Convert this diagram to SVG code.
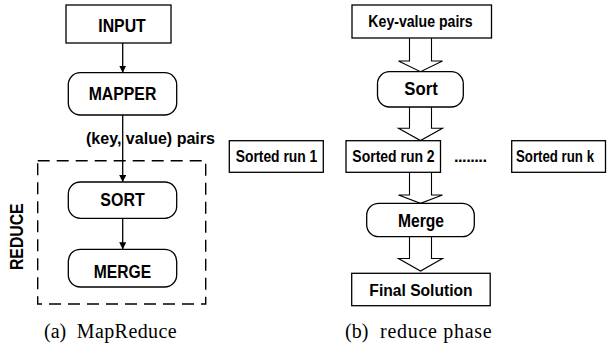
<svg xmlns="http://www.w3.org/2000/svg" width="607" height="348" viewBox="0 0 607 348">
<style>
.box{fill:#fff;stroke:#000;stroke-width:1.3}
.lbl{font-family:"Liberation Sans",Arial,sans-serif;font-weight:bold;fill:#000}
.l{font-size:18.5px}
.r{font-size:16.5px}
.cap{font-family:"Liberation Serif","Times New Roman",serif;font-size:20px;fill:#000}
.ln{stroke:#000;stroke-width:1.3;fill:none}
.blk{fill:#fff;stroke:#000;stroke-width:1.1}
.dash{fill:none;stroke:#000;stroke-width:1.4;stroke-dasharray:12 7}
</style>
<defs>
<marker id="ah" viewBox="0 0 7 7" refX="7" refY="3.5" markerWidth="7" markerHeight="7" markerUnits="userSpaceOnUse" orient="auto">
<path d="M0,0 L7,3.5 L0,7 z" fill="#000"/>
</marker>
</defs>

<g id="reduce-frame">
<rect class="dash" x="37.7" y="160.7" width="168" height="143.3"/>
<text class="lbl" x="23.3" y="236.7" font-size="19" text-anchor="middle" textLength="66.7" lengthAdjust="spacingAndGlyphs" transform="rotate(-90 23.3 236.7)">REDUCE</text>
</g>

<g id="input">
<rect class="box" x="66" y="5" width="105" height="38"/>
<text class="lbl l" x="122" y="31.5" text-anchor="middle" textLength="47.4" lengthAdjust="spacingAndGlyphs">INPUT</text>
</g>
<g id="mapper">
<rect class="box" x="68.3" y="72.7" width="108.4" height="42.3" rx="12"/>
<text class="lbl l" x="122.5" y="100" text-anchor="middle" textLength="67.7" lengthAdjust="spacingAndGlyphs">MAPPER</text>
</g>
<g id="sort">
<rect class="box" x="68.3" y="182" width="108.4" height="36.3" rx="12"/>
<text class="lbl l" x="122.5" y="206" text-anchor="middle" textLength="44.3" lengthAdjust="spacingAndGlyphs">SORT</text>
</g>
<g id="merge">
<rect class="box" x="68.3" y="249.3" width="108.4" height="37.7" rx="12"/>
<text class="lbl l" x="122.5" y="277.5" text-anchor="middle" textLength="57.3" lengthAdjust="spacingAndGlyphs">MERGE</text>
</g>

<g id="connectors">
<line class="ln" x1="122.7" y1="43" x2="122.7" y2="72.7" marker-end="url(#ah)"/>
<line class="ln" x1="122.7" y1="115" x2="122.7" y2="182" marker-end="url(#ah)"/>
<line class="ln" x1="122.7" y1="218.3" x2="122.7" y2="249.3" marker-end="url(#ah)"/>
<text class="lbl" x="86" y="143.5" font-size="17" textLength="129" lengthAdjust="spacingAndGlyphs">(key, value) pairs</text>
<path class="blk" d="M409.5,38 V61 H398.5 L420.5,71.7 L442.5,61 H431.5 V38"/>
<path class="blk" d="M409.5,107 V128.3 H398.5 L420.5,140.5 L442.5,128.3 H431.5 V107"/>
<path class="blk" d="M409.5,172 V195 H398.5 L420.5,203.3 L442.5,195 H431.5 V172"/>
<path class="blk" d="M409.5,236.7 V258.5 H398.5 L420.5,271 L442.5,258.5 H431.5 V236.7"/>
</g>

<g id="key-value-pairs">
<rect class="box" x="352" y="5" width="139.5" height="33"/>
<text class="lbl r" x="420.5" y="27" text-anchor="middle" textLength="104.3" lengthAdjust="spacingAndGlyphs">Key-value pairs</text>
</g>
<g id="sort-b">
<rect class="box" x="377.5" y="71.7" width="85.8" height="35.3" rx="12"/>
<text class="lbl l" x="421" y="95" text-anchor="middle" textLength="33.5" lengthAdjust="spacingAndGlyphs">Sort</text>
</g>
<g id="sorted-run-1">
<rect class="box" x="229.3" y="140.7" width="94" height="31.6"/>
<text class="lbl r" x="276.5" y="162" text-anchor="middle" textLength="81.6" lengthAdjust="spacingAndGlyphs">Sorted run 1</text>
</g>
<g id="sorted-run-2">
<rect class="box" x="346" y="140.7" width="94.5" height="31.6"/>
<text class="lbl r" x="393.5" y="162" text-anchor="middle" textLength="82.3" lengthAdjust="spacingAndGlyphs">Sorted run 2</text>
</g>
<g id="dots">
<text class="lbl r" x="454" y="162" textLength="33" lengthAdjust="spacing">........</text>
</g>
<g id="sorted-run-k">
<rect class="box" x="511.7" y="140.7" width="93.8" height="31.6"/>
<text class="lbl r" x="555" y="162" text-anchor="middle" textLength="78" lengthAdjust="spacingAndGlyphs">Sorted run k</text>
</g>
<g id="merge-b">
<rect class="box" x="366.7" y="203.3" width="107.6" height="33.4" rx="12"/>
<text class="lbl l" x="421" y="227" text-anchor="middle" textLength="46" lengthAdjust="spacingAndGlyphs">Merge</text>
</g>
<g id="final-solution">
<rect class="box" x="351.7" y="273.3" width="138.5" height="32.4"/>
<text class="lbl r" x="421" y="295.5" text-anchor="middle" textLength="103.3" lengthAdjust="spacingAndGlyphs">Final Solution</text>
</g>

<g id="captions">
<text class="cap" x="44" y="338">(a)</text>
<text class="cap" x="76.7" y="338" textLength="100" lengthAdjust="spacing">MapReduce</text>
<text class="cap" x="345" y="338">(b)</text>
<text class="cap" x="380" y="338" textLength="111.7" lengthAdjust="spacing">reduce phase</text>
</g>
</svg>
